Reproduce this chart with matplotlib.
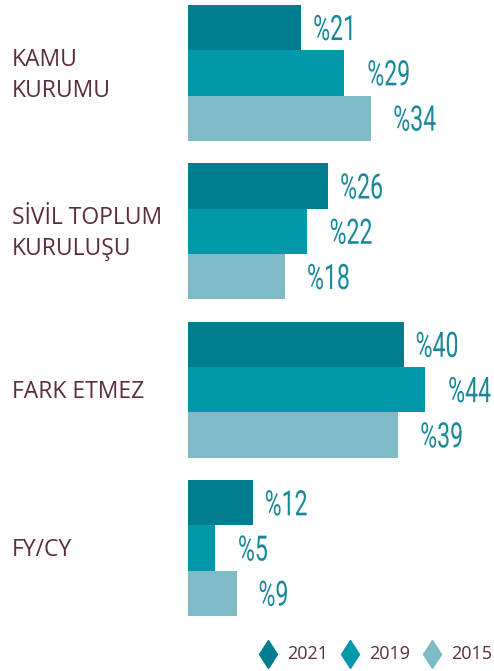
import matplotlib.pyplot as plt
from matplotlib.lines import Line2D
from matplotlib.font_manager import FontProperties
from matplotlib.textpath import TextPath
from matplotlib.patches import PathPatch
import matplotlib.transforms as mtransforms

categories = ["KAMU\nKURUMU", "SİVİL TOPLUM\nKURULUŞU", "FARK ETMEZ", "FY/CY"]
years = ["2021", "2019", "2015"]
v2021 = [21, 26, 40, 12]
v2019 = [29, 22, 44, 5]
v2015 = [34, 18, 39, 9]
series = [v2021, v2019, v2015]

colors = ["#007D8F", "#0098AA", "#7EBBC7"]
label_color = "#5B2C3A"
value_color = "#17879A"
cat_font = "Open Sans"
num_prop = FontProperties(family="Roboto", weight="normal")

W, H = 494, 671
fig = plt.figure(figsize=(W / 100, H / 100), dpi=100)
# bars area: x from 188px, y from 5px to 616px
ax = fig.add_axes([188 / W, (H - 616) / H, (W - 188) / W, 611 / H])
px_per_pct = 5.39
ax.set_xlim(0, (W - 188) / px_per_pct)
ax.set_ylim(13.5, 0)
ax.axis("off")

# condensed value labels: text drawn as a path squeezed horizontally
num_size = 35   # px
squeeze = 0.66
cap = 0.711 * num_size

offsets = [12, 23, 22]  # px gap between bar end and value label
for k, vals in enumerate(series):
    ys = [g * 3.5 + k + 0.5 for g in range(len(categories))]
    ax.barh(ys, vals, height=1.0, color=colors[k], linewidth=0)
    for y, v in zip(ys, vals):
        path = TextPath((0, 0), f"%{v}", size=1, prop=num_prop)
        tr = (mtransforms.Affine2D().scale(num_size * squeeze, num_size)
              .translate(offsets[k], -cap / 2)
              + mtransforms.ScaledTranslation(v, y, ax.transData))
        ax.add_patch(PathPatch(path, transform=tr, facecolor=value_color,
                               edgecolor="none", clip_on=False))

blend = mtransforms.blended_transform_factory(fig.transFigure, ax.transData)
for g, cat in enumerate(categories):
    ax.text(12 / W, g * 3.5 + 1.55, cat, transform=blend, ha="left", va="center",
            fontsize=16.5, color=label_color, family=cat_font, linespacing=1.4)

# legend drawn by hand: thin diamonds + year text
leg_x = [268, 350, 432]
leg_y = (H - 654) / H
for x, c, yr in zip(leg_x, colors, years):
    fig.add_artist(Line2D([x / W], [leg_y], marker="d", markersize=14.5,
                          markerfacecolor=c, markeredgecolor=c, linestyle="none",
                          transform=fig.transFigure))
    fig.text((x + 19) / W, leg_y, yr, ha="left", va="center", fontsize=13,
             color=label_color, family=cat_font)

fig.savefig("out.png", dpi=100)
